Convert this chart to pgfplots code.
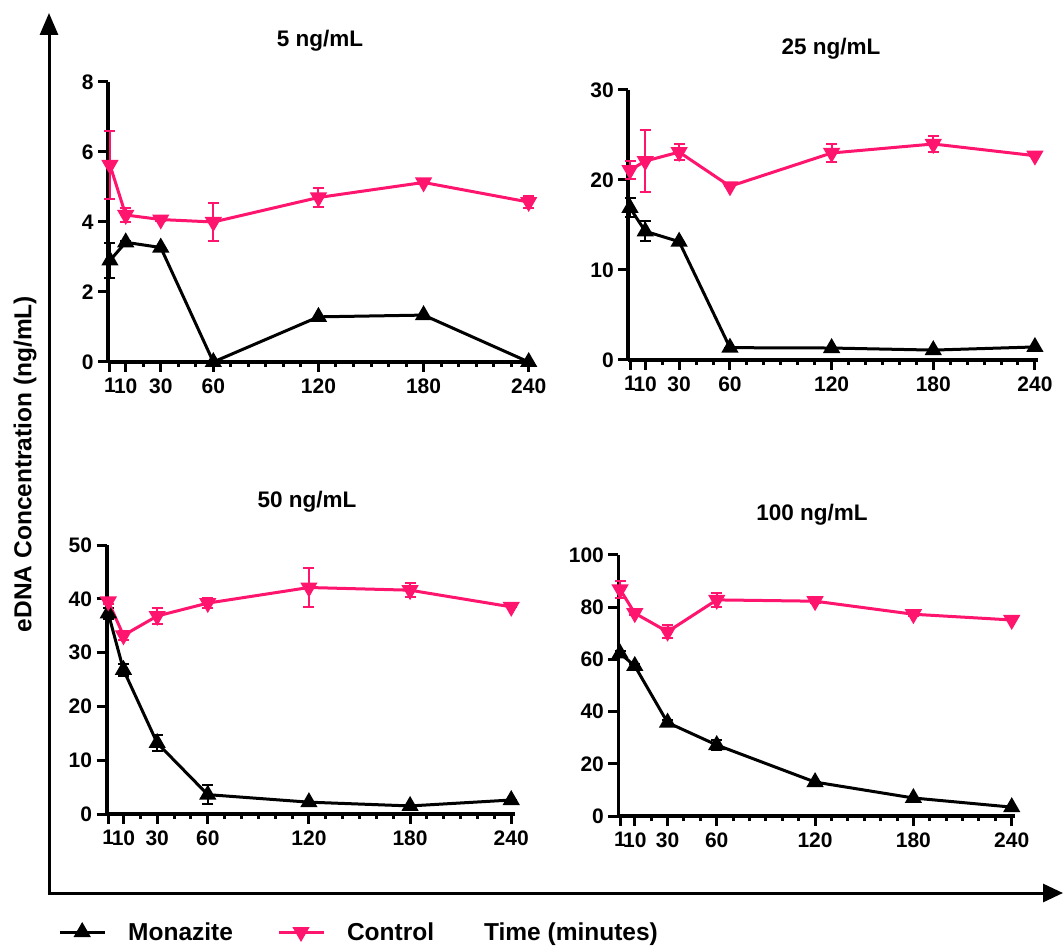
\documentclass[border=0pt]{standalone}
\usepackage{pgfplots}
\pgfplotsset{compat=1.18}
\usepackage{fontspec}
\setmainfont{Liberation Sans}
\usetikzlibrary{arrows.meta}
\definecolor{ctrl}{RGB}{255,20,110}
\pgfplotsset{
  panel/.style={
    scale only axis, axis lines*=left,
    axis line style={line width=3.8pt, black},
    xmin=0, xmax=242, ymin=0,
    xtick={1,10,30,60,120,180,240},
    minor xtick={20,40,50,70,80,90,100,110,130,140,150,160,170,190,200,210,220,230},
    tick align=outside, major tick length=10pt, minor tick length=5pt,
    major tick style={line width=3pt, black},
    minor tick style={line width=3pt, black},
    tick label style={font=\fontsize{21}{22}\selectfont\bfseries},
    xticklabel style={yshift=-3pt},
    yticklabel style={xshift=-1pt},
    /pgf/number format/assume math mode=true,
    clip=false,
  },
  mon/.style={black, line width=3pt, mark=triangle*, mark size=7pt, mark options={solid},
    error bars/.cd, y dir=both, y explicit,
    error bar style={line width=2pt},
    error mark options={rotate=90, mark size=5.5pt, line width=2pt}},
  con/.style={ctrl, line width=3pt, mark=triangle*, mark size=7pt, mark options={rotate=180},
    error bars/.cd, y dir=both, y explicit,
    error bar style={line width=2pt},
    error mark options={rotate=90, mark size=5.5pt, line width=2pt}},
}
\begin{document}
\begin{tikzpicture}[x=1pt,y=1pt]
\useasboundingbox (0,0) rectangle (1064,945);
\def\tfont{\fontsize{22.5}{24}\selectfont\bfseries}
\def\lfont{\fontsize{24.5}{26}\selectfont\bfseries}
% big arrows
\draw[line width=3pt, -{Triangle[width=18pt,length=22pt]}] (49,52) -- (49,932);
\draw[line width=3pt, -{Triangle[width=18pt,length=20pt]}] (47.5,52) -- (1063,52);
\node[rotate=90, font=\lfont] at (25,481) {eDNA Concentration (ng/mL)};
\node[anchor=base, font=\lfont] at (571,5) {Time (minutes)};
% titles
\node[anchor=base, font=\tfont] at (320,898) {5 ng/mL};
\node[anchor=base, font=\tfont] at (831,890) {25 ng/mL};
\node[anchor=base, font=\tfont] at (307,437) {50 ng/mL};
\node[anchor=base, font=\tfont] at (812,424) {100 ng/mL};

% Panel 1
\begin{axis}[panel, at={(108.2pt,583pt)}, anchor=south west, width=424pt, height=280pt,
  ymax=8, ytick={0,2,4,6,8}]
\addplot[mon] coordinates {(1,2.9)+-(0,0.5) (10,3.42)+-(0,0.05) (30,3.27)+-(0,0) (60,0)+-(0,0) (120,1.29)+-(0,0) (180,1.34)+-(0,0) (240,0)+-(0,0)};
\addplot[con] coordinates {(1,5.63)+-(0,0.97) (10,4.2)+-(0,0.2) (30,4.07)+-(0,0.05) (60,4.0)+-(0,0.55) (120,4.7)+-(0,0.28) (180,5.13)+-(0,0.05) (240,4.57)+-(0,0.17)};
\end{axis}

% Panel 2
\begin{axis}[panel, at={(628.3pt,585pt)}, anchor=south west, width=410pt, height=270pt,
  ymax=30, ytick={0,10,20,30}]
\addplot[mon] coordinates {(1,16.9)+-(0,1.05) (10,14.3)+-(0,1.1) (30,13.15)+-(0,0) (60,1.37)+-(0,0) (120,1.33)+-(0,0) (180,1.1)+-(0,0) (240,1.45)+-(0,0)};
\addplot[con] coordinates {(1,21.1)+-(0,1.0) (10,22.1)+-(0,3.4) (30,23.1)+-(0,0.9) (60,19.3)+-(0,0) (120,23.0)+-(0,1.0) (180,24.0)+-(0,0.9) (240,22.7)+-(0,0)};
\end{axis}

% Panel 3
\begin{axis}[panel, at={(106.6pt,131pt)}, anchor=south west, width=408pt, height=269pt,
  ymax=50, ytick={0,10,20,30,40,50},
  legend columns=2,
  legend style={at={(-0.1191,-0.4387)}, anchor=west, draw=none, fill=none, inner sep=0pt,
    font=\lfont, /tikz/every odd column/.append style={column sep=20pt},
    /tikz/every even column/.append style={column sep=42pt}},
  legend image code/.code={\draw[mark repeat=2,mark phase=2,#1] plot coordinates {(0pt,0pt) (22.5pt,0pt) (45pt,0pt)};}]
\addplot[mon] coordinates {(1,37.3)+-(0,1.0) (10,26.8)+-(0,1.1) (30,13.2)+-(0,1.5) (60,3.6)+-(0,1.8) (120,2.2)+-(0,0) (180,1.5)+-(0,0) (240,2.6)+-(0,0)};
\addlegendentry{Monazite}
\addplot[con] coordinates {(1,39.5)+-(0,0.5) (10,33.2)+-(0,0.8) (30,36.8)+-(0,1.4) (60,39.2)+-(0,0.9) (120,42.1)+-(0,3.7) (180,41.6)+-(0,1.3) (240,38.5)+-(0,0)};
\addlegendentry{Control}
\end{axis}

% Panel 4
\begin{axis}[panel, at={(618.4pt,129pt)}, anchor=south west, width=396.6pt, height=261pt,
  ymax=100, ytick={0,20,40,60,80,100}]
\addplot[mon] coordinates {(1,62.3)+-(0,0.8) (10,57.5)+-(0,0.8) (30,35.8)+-(0,0.8) (60,27.2)+-(0,2) (120,13)+-(0,0) (180,6.9)+-(0,0) (240,3.4)+-(0,0)};
\addplot[con] coordinates {(1,86.8)+-(0,3.2) (10,77.7)+-(0,0.8) (30,70.6)+-(0,2.5) (60,82.8)+-(0,2.7) (120,82.3)+-(0,0.8) (180,77.3)+-(0,0.8) (240,75.1)+-(0,0)};
\end{axis}
\end{tikzpicture}
\end{document}
